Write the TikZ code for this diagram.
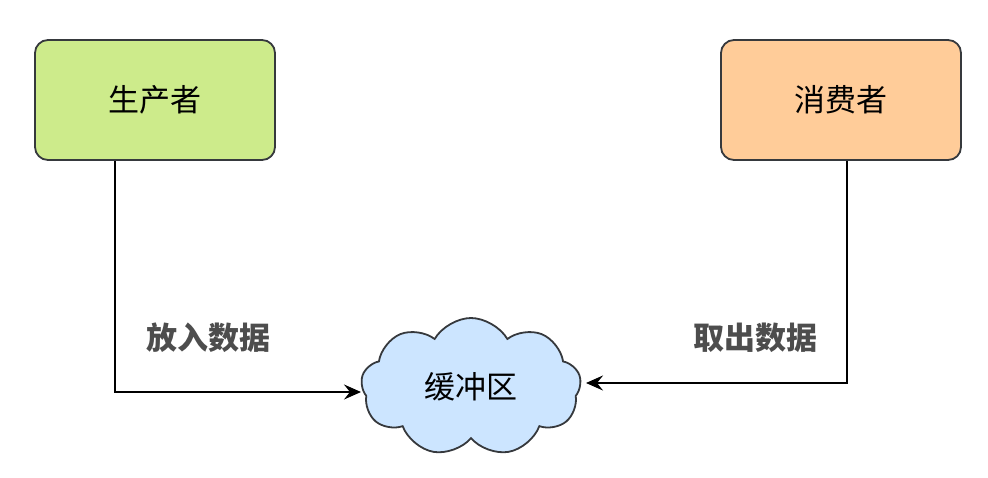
\documentclass[tikz,border=0pt]{standalone}
\usepackage{fontspec}
\newfontfamily\cjk{Noto Sans CJK SC}
\usetikzlibrary{shapes.symbols,arrows.meta}

\definecolor{prodgreen}{HTML}{CDEB8B}
\definecolor{consorange}{HTML}{FFCC99}
\definecolor{bufblue}{HTML}{CCE5FF}
\definecolor{edgegray}{HTML}{36393D}
\definecolor{labelgray}{HTML}{4D4D4D}

\tikzset{
	role/.style={draw=edgegray, line width=1.8pt, rounded corners=13pt,
		minimum width=240pt, minimum height=120pt, inner sep=0pt,
		font=\cjk\fontsize{31}{36}\selectfont},
	flow/.style={line width=2pt, -{Stealth[length=17pt,width=15pt,inset=6pt]}},
	flowtext/.style={font=\cjk\bfseries\fontsize{31}{36}\selectfont, text=labelgray}
}

\begin{document}
\begin{tikzpicture}[x=1pt,y=-1pt]
	\useasboundingbox (0,0) rectangle (988,477);
	
	% roles
	\node[role, fill=prodgreen] (prod) at (155,100) {生产者};
	\node[role, fill=consorange] (cons) at (841,100) {消费者};
	
	% buffer
	\node[cloud, cloud puffs=9, cloud puff arc=120, aspect=1.6,
		draw=edgegray, line width=1.8pt, fill=bufblue, inner sep=0pt,
		minimum width=220pt, minimum height=138pt,
		font=\cjk\fontsize{31}{36}\selectfont] (buf) at (471,387) {缓冲区};
	
	\coordinate (putin) at (361,392);
	\coordinate (takeout) at (586,383);
	
	% data flow
	\draw[flow] (prod.south -| 115,0) |- (putin);
	\draw[flow] (cons.south -| 847,0) |- (takeout);
	
	\node[flowtext] (putlabel) at (208,338) {放入数据};
	\node[flowtext] (takelabel) at (755,338) {取出数据};
\end{tikzpicture}
\end{document}
